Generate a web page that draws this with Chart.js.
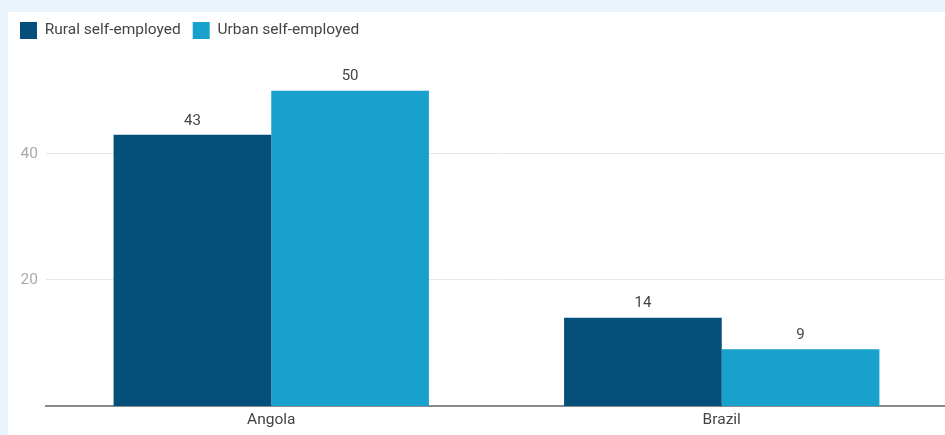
<!DOCTYPE html>
<html>
<head>
<meta charset="utf-8">
<script src="https://cdn.jsdelivr.net/npm/chart.js@4.4.1/dist/chart.umd.min.js"></script>
<style>
  html, body { margin: 0; padding: 0; background: #eaf4fd; overflow: hidden; }
  #wrap { position: absolute; left: 8px; top: 12px; width: 939px; height: 423px; background: #fff; }
</style>
</head>
<body>
<div id="wrap"><canvas id="chart"></canvas></div>
<script>
// données
const countries = ['Angola', 'Brazil'];
const rural = [43, 14];
const urban = [50, 9];
const seriesNames = ['Rural self-employed', 'Urban self-employed'];
const yTicks = [20, 40];

// étiquettes au-dessus des barres
const valueLabels = {
    id: 'valueLabels',
    afterDatasetsDraw(chart) {
        const ctx = chart.ctx;
        ctx.save();
        ctx.font = '15px Roboto';
        ctx.fillStyle = '#444';
        ctx.textAlign = 'center';
        ctx.textBaseline = 'middle';
        chart.data.datasets.forEach(function(ds, i) {
            chart.getDatasetMeta(i).data.forEach(function(bar, j) {
                ctx.fillText(ds.data[j], bar.x, bar.y - 14);
            });
        });
        ctx.restore();
    }
};

const ctx = document.getElementById('chart').getContext('2d');
const chart = new Chart(ctx, {
    type: 'bar',
    data: {
        labels: countries,
        datasets: [
            { label: seriesNames[0], data: rural, backgroundColor: '#05507a' },
            { label: seriesNames[1], data: urban, backgroundColor: '#19a1cd' }
        ]
    },
    options: {
        responsive: true,
        maintainAspectRatio: false,
        animation: false,
        layout: { padding: { top: -2 } },
        categoryPercentage: 0.7,
        barPercentage: 1.0,
        plugins: {
            tooltip: { enabled: false },
            legend: {
                position: 'top',
                align: 'start',
                labels: {
                    boxWidth: 17,
                    boxHeight: 17,
                    padding: 12,
                    color: '#444',
                    font: { family: 'Roboto', size: 15.5 }
                }
            }
        },
        scales: {
            x: {
                grid: { display: false, drawTicks: false },
                border: { display: true, color: '#8a8a8a', width: 2 },
                ticks: { color: '#444', font: { family: 'Roboto', size: 15.5 }, padding: 5 },
                afterFit: function(scale) { scale.height = 29; }
            },
            y: {
                min: 0,
                max: 56.6,
                grid: { color: '#e8e8e8', drawTicks: false },
                border: { display: false },
                ticks: { color: '#aaa', font: { family: 'Roboto', size: 15.5 }, padding: 8 },
                afterBuildTicks: function(scale) {
                    scale.ticks = yTicks.map(function(v) { return { value: v }; });
                },
                afterFit: function(scale) { scale.width = 38; }
            }
        }
    },
    plugins: [valueLabels]
});
</script>
</body>
</html>
